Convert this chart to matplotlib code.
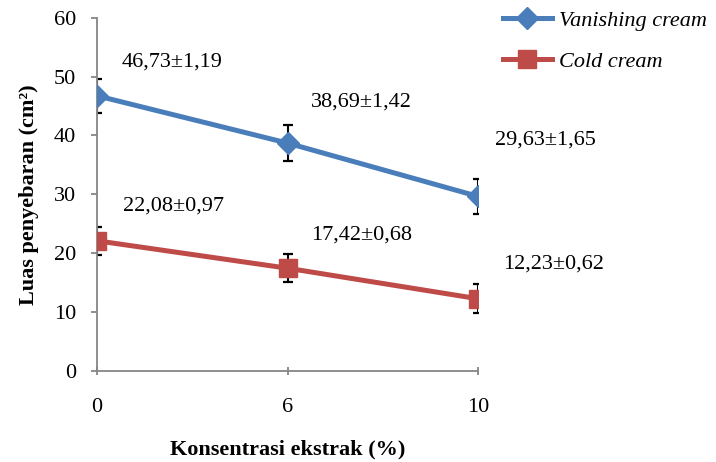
#!/usr/bin/env python3
"""Luas penyebaran vs konsentrasi ekstrak, vanishing cream and cold cream."""

import matplotlib
matplotlib.use("Agg")
import matplotlib.pyplot as plt
import numpy as np

CATEGORIES = ["0", "6", "10"]
VANISHING = [46.73, 38.69, 29.63]
VANISHING_ERR = [2.9, 3.0, 3.0]
VANISHING_LABELS = ["46,73\u00b11,19", "38,69\u00b11,42", "29,63\u00b11,65"]
COLD = [22.08, 17.42, 12.23]
COLD_ERR = [2.4, 2.4, 2.5]
COLD_LABELS = ["22,08\u00b10,97", "17,42\u00b10,68", "12,23\u00b10,62"]
Y_TICKS = [0, 10, 20, 30, 40, 50, 60]

BLUE = "#4A7EBB"
RED = "#BE4B48"
AXIS_GRAY = "#868686"
FONT_SIZE = 16

plt.rcParams["font.family"] = ["Liberation Serif", "DejaVu Serif"]

# offsets (pixels) of each data label from its point, as placed in the original
V_OFFSETS = [(25, 34), (23, 41), (17, 56)]
C_OFFSETS = [(26, 35), (24, 33), (25, 35)]


def main() -> None:
    fig = plt.figure(figsize=(7.16, 4.62), dpi=100)
    ax = fig.add_axes([97 / 716, 91.3 / 462, 381 / 716, 353 / 462])

    x = np.arange(len(CATEGORIES), dtype=float)

    ax.errorbar(x, VANISHING, yerr=VANISHING_ERR, fmt="none", ecolor="black",
                elinewidth=1.5, capsize=3.8, capthick=1.6, zorder=2)
    ax.errorbar(x, COLD, yerr=COLD_ERR, fmt="none", ecolor="black",
                elinewidth=1.5, capsize=3.8, capthick=1.6, zorder=2)

    ax.plot(x, VANISHING, color=BLUE, linewidth=3.6, marker="D", markersize=11,
            markerfacecolor=BLUE, markeredgecolor=BLUE, label="Vanishing cream", zorder=3)
    ax.plot(x, COLD, color=RED, linewidth=3.6, marker="s", markersize=13.5,
            markerfacecolor=RED, markeredgecolor=RED, label="Cold cream", zorder=3)

    for xi, yi, txt, off in zip(x, VANISHING, VANISHING_LABELS, V_OFFSETS):
        ax.annotate(txt, (xi, yi), xytext=off, textcoords="offset pixels",
                    ha="left", va="center", fontsize=FONT_SIZE, annotation_clip=False)
    for xi, yi, txt, off in zip(x, COLD, COLD_LABELS, C_OFFSETS):
        ax.annotate(txt, (xi, yi), xytext=off, textcoords="offset pixels",
                    ha="left", va="center", fontsize=FONT_SIZE, annotation_clip=False)

    ax.set_xlim(0, len(CATEGORIES) - 1)
    ax.set_ylim(0, 60)
    ax.set_xticks(x)
    ax.set_xticklabels(CATEGORIES)
    ax.set_yticks(Y_TICKS)

    for side in ("top", "right"):
        ax.spines[side].set_visible(False)
    for side in ("left", "bottom"):
        ax.spines[side].set_color(AXIS_GRAY)
        ax.spines[side].set_linewidth(1.3)
        ax.spines[side].set_clip_on(False)

    ax.tick_params(axis="y", direction="out", length=4, width=1.3, color=AXIS_GRAY,
                   pad=11, labelsize=FONT_SIZE)
    ax.tick_params(axis="x", direction="inout", length=6, width=1.3, color=AXIS_GRAY,
                   pad=17, labelsize=FONT_SIZE)

    ax.set_ylabel("Luas penyebaran (cm\u00b2)", fontsize=FONT_SIZE, fontweight="bold")
    ax.yaxis.set_label_coords(-0.152, 0.5)
    ax.set_xlabel("Konsentrasi ekstrak (%)", fontsize=FONT_SIZE, fontweight="bold")
    ax.xaxis.set_label_coords(0.5, -0.195)

    fig.legend(loc="upper left", bbox_to_anchor=(503 / 716, 1 - 10 / 462),
               frameon=False, prop={"style": "italic", "size": FONT_SIZE},
               handlelength=2.2, handletextpad=0.3, labelspacing=0.95,
               borderpad=0, borderaxespad=0)

    fig.savefig("out.png", dpi=100)
    plt.close(fig)


if __name__ == "__main__":
    main()
